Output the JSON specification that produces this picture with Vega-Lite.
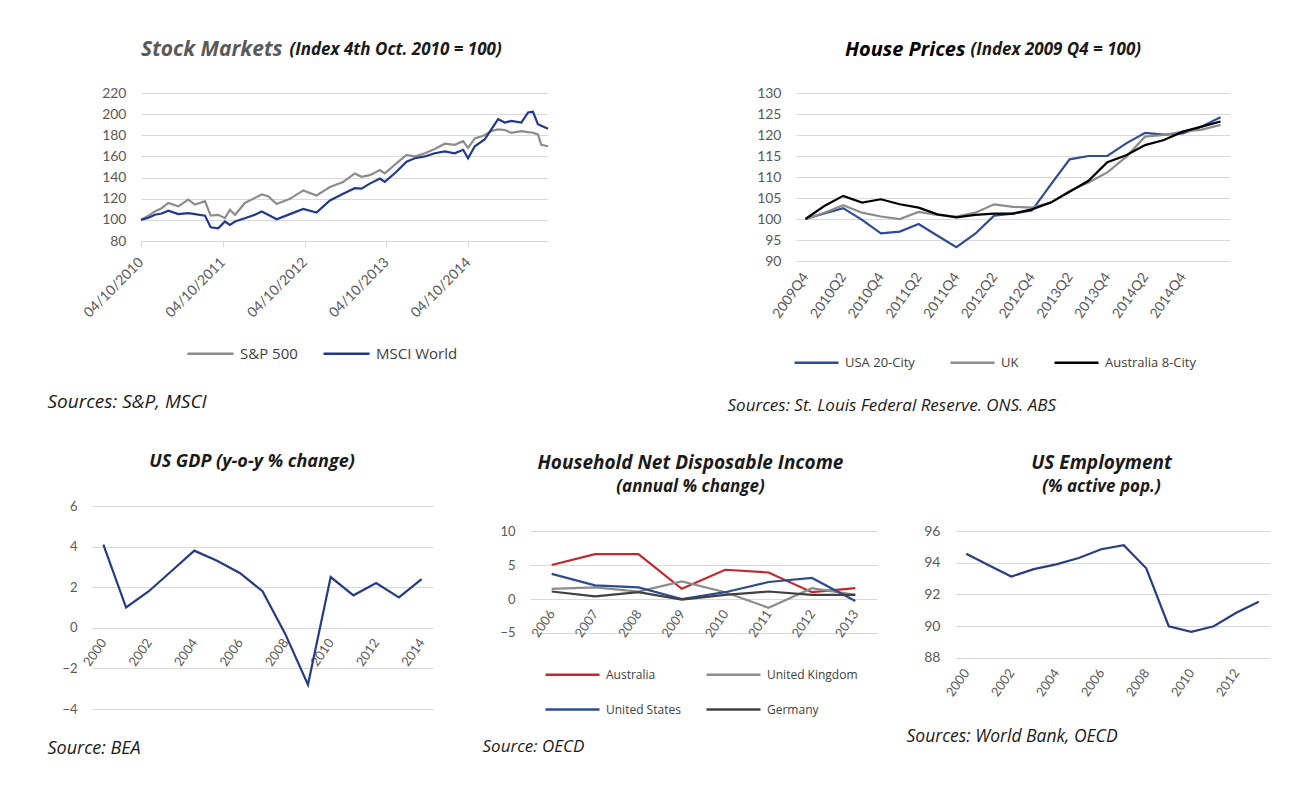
{
"$schema":"https://vega.github.io/schema/vega-lite/v6.json",
"background":"white",
"padding":{"left":47,"top":39,"right":5,"bottom":5},
"config":{
 "font":"Open Sans",
 "view":{"stroke":null},
 "axis":{"labelFont":"Lato","labelColor":"#595959","labelFontSize":14,"gridColor":"#d9d9d9","domain":false,"ticks":false,"titleFont":"Open Sans","titleFontStyle":"italic","titleFontWeight":"normal","titleFontSize":16,"titleColor":"#1a1a1a","titleAngle":0,"titleAlign":"left","titleBaseline":"middle","titleAnchor":"start"},
 "axisX":{"grid":false,"labelPadding":10},
 "axisY":{"labelPadding":15},
 "legend":{"labelFont":"Open Sans","labelColor":"#404040","labelOffset":5},
 "title":{"font":"Open Sans","fontStyle":"italic","fontWeight":"bold","color":"#1a1a1a","offset":0,"subtitleFont":"Open Sans","subtitleFontStyle":"italic","subtitleFontWeight":"bold","subtitleColor":"#1a1a1a"}
},
"datasets":{
 "stock":[
{"d":"2010/10/04","s":"S&P 500","v":100},{"d":"2010/11/06","s":"S&P 500","v":104},{"d":"2010/12/05","s":"S&P 500","v":108},{"d":"2011/01/04","s":"S&P 500","v":111},{"d":"2011/02/03","s":"S&P 500","v":116},{"d":"2011/03/20","s":"S&P 500","v":112.8},{"d":"2011/05/03","s":"S&P 500","v":119.2},{"d":"2011/06/02","s":"S&P 500","v":114.4},{"d":"2011/07/17","s":"S&P 500","v":117.6},{"d":"2011/08/11","s":"S&P 500","v":104},{"d":"2011/09/14","s":"S&P 500","v":104.8},{"d":"2011/10/14","s":"S&P 500","v":101.6},{"d":"2011/11/05","s":"S&P 500","v":109.6},{"d":"2011/11/28","s":"S&P 500","v":104.8},{"d":"2012/01/11","s":"S&P 500","v":116},{"d":"2012/02/25","s":"S&P 500","v":120.8},{"d":"2012/03/26","s":"S&P 500","v":124},{"d":"2012/04/24","s":"S&P 500","v":122.4},{"d":"2012/06/01","s":"S&P 500","v":115},{"d":"2012/07/30","s":"S&P 500","v":119.9},{"d":"2012/09/28","s":"S&P 500","v":127.9},{"d":"2012/11/26","s":"S&P 500","v":123},{"d":"2013/01/25","s":"S&P 500","v":131},{"d":"2013/03/25","s":"S&P 500","v":135.9},{"d":"2013/05/16","s":"S&P 500","v":143.9},{"d":"2013/06/15","s":"S&P 500","v":140.7},{"d":"2013/07/22","s":"S&P 500","v":142.3},{"d":"2013/09/05","s":"S&P 500","v":147.1},{"d":"2013/09/27","s":"S&P 500","v":143.9},{"d":"2013/11/18","s":"S&P 500","v":153.5},{"d":"2014/01/02","s":"S&P 500","v":161.5},{"d":"2014/02/08","s":"S&P 500","v":160},{"d":"2014/03/25","s":"S&P 500","v":163},{"d":"2014/05/08","s":"S&P 500","v":167},{"d":"2014/06/22","s":"S&P 500","v":172},{"d":"2014/08/05","s":"S&P 500","v":171},{"d":"2014/09/12","s":"S&P 500","v":174.4},{"d":"2014/10/04","s":"S&P 500","v":168},{"d":"2014/11/03","s":"S&P 500","v":177},{"d":"2014/12/17","s":"S&P 500","v":180},{"d":"2015/01/16","s":"S&P 500","v":184},{"d":"2015/02/15","s":"S&P 500","v":185.6},{"d":"2015/03/17","s":"S&P 500","v":185},{"d":"2015/04/15","s":"S&P 500","v":182.4},{"d":"2015/05/30","s":"S&P 500","v":184},{"d":"2015/06/29","s":"S&P 500","v":183},{"d":"2015/07/21","s":"S&P 500","v":182.4},{"d":"2015/08/12","s":"S&P 500","v":180.8},{"d":"2015/08/27","s":"S&P 500","v":171},{"d":"2015/09/26","s":"S&P 500","v":169.6},
{"d":"2010/10/04","s":"MSCI World","v":100},{"d":"2010/11/06","s":"MSCI World","v":102},{"d":"2010/12/05","s":"MSCI World","v":104.8},{"d":"2011/01/04","s":"MSCI World","v":106},{"d":"2011/02/03","s":"MSCI World","v":108.7},{"d":"2011/03/20","s":"MSCI World","v":105.4},{"d":"2011/05/03","s":"MSCI World","v":106.4},{"d":"2011/06/02","s":"MSCI World","v":105.5},{"d":"2011/07/17","s":"MSCI World","v":104},{"d":"2011/08/11","s":"MSCI World","v":93},{"d":"2011/09/14","s":"MSCI World","v":92},{"d":"2011/10/14","s":"MSCI World","v":98.4},{"d":"2011/11/05","s":"MSCI World","v":95.2},{"d":"2011/11/28","s":"MSCI World","v":98.4},{"d":"2012/01/11","s":"MSCI World","v":101.6},{"d":"2012/02/25","s":"MSCI World","v":104.8},{"d":"2012/03/26","s":"MSCI World","v":108},{"d":"2012/04/24","s":"MSCI World","v":104.8},{"d":"2012/06/01","s":"MSCI World","v":100.6},{"d":"2012/07/30","s":"MSCI World","v":105.4},{"d":"2012/09/28","s":"MSCI World","v":110.3},{"d":"2012/11/26","s":"MSCI World","v":107},{"d":"2013/01/25","s":"MSCI World","v":118.3},{"d":"2013/03/25","s":"MSCI World","v":124.7},{"d":"2013/05/16","s":"MSCI World","v":130},{"d":"2013/06/15","s":"MSCI World","v":129.5},{"d":"2013/07/22","s":"MSCI World","v":134.3},{"d":"2013/09/05","s":"MSCI World","v":139.1},{"d":"2013/09/27","s":"MSCI World","v":135.9},{"d":"2013/11/18","s":"MSCI World","v":145.5},{"d":"2014/01/02","s":"MSCI World","v":155.1},{"d":"2014/02/08","s":"MSCI World","v":158.3},{"d":"2014/03/25","s":"MSCI World","v":160},{"d":"2014/05/08","s":"MSCI World","v":163},{"d":"2014/06/22","s":"MSCI World","v":164.7},{"d":"2014/08/05","s":"MSCI World","v":163},{"d":"2014/09/12","s":"MSCI World","v":166.3},{"d":"2014/10/04","s":"MSCI World","v":158.3},{"d":"2014/11/03","s":"MSCI World","v":169.6},{"d":"2014/12/17","s":"MSCI World","v":176},{"d":"2015/01/16","s":"MSCI World","v":185.6},{"d":"2015/02/15","s":"MSCI World","v":195.2},{"d":"2015/03/17","s":"MSCI World","v":192},{"d":"2015/04/15","s":"MSCI World","v":193.6},{"d":"2015/05/30","s":"MSCI World","v":192},{"d":"2015/06/29","s":"MSCI World","v":201.6},{"d":"2015/07/21","s":"MSCI World","v":202.2},{"d":"2015/08/12","s":"MSCI World","v":190.4},{"d":"2015/08/27","s":"MSCI World","v":189},{"d":"2015/09/26","s":"MSCI World","v":186.2}
 ],
 "house":[
{"q":"2009Q4","s":"USA 20-City","v":100},{"q":"2010Q1","s":"USA 20-City","v":101.3},{"q":"2010Q2","s":"USA 20-City","v":102.6},{"q":"2010Q3","s":"USA 20-City","v":99.8},{"q":"2010Q4","s":"USA 20-City","v":96.6},{"q":"2011Q1","s":"USA 20-City","v":97.0},{"q":"2011Q2","s":"USA 20-City","v":98.8},{"q":"2011Q3","s":"USA 20-City","v":96.0},{"q":"2011Q4","s":"USA 20-City","v":93.3},{"q":"2012Q1","s":"USA 20-City","v":96.5},{"q":"2012Q2","s":"USA 20-City","v":100.8},{"q":"2012Q3","s":"USA 20-City","v":101.3},{"q":"2012Q4","s":"USA 20-City","v":102.0},{"q":"2013Q1","s":"USA 20-City","v":108.2},{"q":"2013Q2","s":"USA 20-City","v":114.2},{"q":"2013Q3","s":"USA 20-City","v":115.0},{"q":"2013Q4","s":"USA 20-City","v":115.0},{"q":"2014Q1","s":"USA 20-City","v":118.0},{"q":"2014Q2","s":"USA 20-City","v":120.5},{"q":"2014Q3","s":"USA 20-City","v":120.1},{"q":"2014Q4","s":"USA 20-City","v":120.4},{"q":"2015Q1","s":"USA 20-City","v":122.0},{"q":"2015Q2","s":"USA 20-City","v":124.2},
{"q":"2009Q4","s":"UK","v":100},{"q":"2010Q1","s":"UK","v":101.5},{"q":"2010Q2","s":"UK","v":103.3},{"q":"2010Q3","s":"UK","v":101.5},{"q":"2010Q4","s":"UK","v":100.6},{"q":"2011Q1","s":"UK","v":100.0},{"q":"2011Q2","s":"UK","v":101.7},{"q":"2011Q3","s":"UK","v":101.0},{"q":"2011Q4","s":"UK","v":100.6},{"q":"2012Q1","s":"UK","v":101.5},{"q":"2012Q2","s":"UK","v":103.5},{"q":"2012Q3","s":"UK","v":102.9},{"q":"2012Q4","s":"UK","v":102.7},{"q":"2013Q1","s":"UK","v":103.9},{"q":"2013Q2","s":"UK","v":106.7},{"q":"2013Q3","s":"UK","v":108.7},{"q":"2013Q4","s":"UK","v":111.1},{"q":"2014Q1","s":"UK","v":114.8},{"q":"2014Q2","s":"UK","v":119.6},{"q":"2014Q3","s":"UK","v":120.0},{"q":"2014Q4","s":"UK","v":120.8},{"q":"2015Q1","s":"UK","v":121.3},{"q":"2015Q2","s":"UK","v":122.4},
{"q":"2009Q4","s":"Australia 8-City","v":100},{"q":"2010Q1","s":"Australia 8-City","v":103.1},{"q":"2010Q2","s":"Australia 8-City","v":105.5},{"q":"2010Q3","s":"Australia 8-City","v":103.9},{"q":"2010Q4","s":"Australia 8-City","v":104.7},{"q":"2011Q1","s":"Australia 8-City","v":103.5},{"q":"2011Q2","s":"Australia 8-City","v":102.7},{"q":"2011Q3","s":"Australia 8-City","v":101.1},{"q":"2011Q4","s":"Australia 8-City","v":100.4},{"q":"2012Q1","s":"Australia 8-City","v":101.0},{"q":"2012Q2","s":"Australia 8-City","v":101.3},{"q":"2012Q3","s":"Australia 8-City","v":101.3},{"q":"2012Q4","s":"Australia 8-City","v":102.3},{"q":"2013Q1","s":"Australia 8-City","v":103.9},{"q":"2013Q2","s":"Australia 8-City","v":106.5},{"q":"2013Q3","s":"Australia 8-City","v":109.1},{"q":"2013Q4","s":"Australia 8-City","v":113.5},{"q":"2014Q1","s":"Australia 8-City","v":115.2},{"q":"2014Q2","s":"Australia 8-City","v":117.6},{"q":"2014Q3","s":"Australia 8-City","v":118.8},{"q":"2014Q4","s":"Australia 8-City","v":120.8},{"q":"2015Q1","s":"Australia 8-City","v":122.0},{"q":"2015Q2","s":"Australia 8-City","v":123.2}
 ],
 "gdp":[{"year":2000,"v":4.1},{"year":2001,"v":1.0},{"year":2002,"v":1.8},{"year":2003,"v":2.8},{"year":2004,"v":3.8},{"year":2005,"v":3.3},{"year":2006,"v":2.7},{"year":2007,"v":1.8},{"year":2008,"v":-0.3},{"year":2009,"v":-2.8},{"year":2010,"v":2.5},{"year":2011,"v":1.6},{"year":2012,"v":2.2},{"year":2013,"v":1.5},{"year":2014,"v":2.4}],
 "hh":[
{"year":2006,"s":"Australia","v":5.0},{"year":2007,"s":"Australia","v":6.6},{"year":2008,"s":"Australia","v":6.6},{"year":2009,"s":"Australia","v":1.5},{"year":2010,"s":"Australia","v":4.3},{"year":2011,"s":"Australia","v":3.9},{"year":2012,"s":"Australia","v":1.0},{"year":2013,"s":"Australia","v":1.6},
{"year":2006,"s":"United Kingdom","v":1.5},{"year":2007,"s":"United Kingdom","v":1.7},{"year":2008,"s":"United Kingdom","v":1.1},{"year":2009,"s":"United Kingdom","v":2.6},{"year":2010,"s":"United Kingdom","v":1.0},{"year":2011,"s":"United Kingdom","v":-1.3},{"year":2012,"s":"United Kingdom","v":1.6},{"year":2013,"s":"United Kingdom","v":0.6},
{"year":2006,"s":"United States","v":3.7},{"year":2007,"s":"United States","v":2.0},{"year":2008,"s":"United States","v":1.7},{"year":2009,"s":"United States","v":0.0},{"year":2010,"s":"United States","v":1.0},{"year":2011,"s":"United States","v":2.5},{"year":2012,"s":"United States","v":3.1},{"year":2013,"s":"United States","v":-0.3},
{"year":2006,"s":"Germany","v":1.1},{"year":2007,"s":"Germany","v":0.4},{"year":2008,"s":"Germany","v":1.0},{"year":2009,"s":"Germany","v":-0.1},{"year":2010,"s":"Germany","v":0.6},{"year":2011,"s":"Germany","v":1.1},{"year":2012,"s":"Germany","v":0.6},{"year":2013,"s":"Germany","v":0.6}
 ],
 "emp":[{"year":2000,"v":94.57},{"year":2001,"v":93.84},{"year":2002,"v":93.13},{"year":2003,"v":93.6},{"year":2004,"v":93.9},{"year":2005,"v":94.3},{"year":2006,"v":94.85},{"year":2007,"v":95.1},{"year":2008,"v":93.65},{"year":2009,"v":90.0},{"year":2010,"v":89.65},{"year":2011,"v":90.0},{"year":2012,"v":90.85},{"year":2013,"v":91.55}]
},
"spacing":40,
"resolve":{"scale":{"color":"independent"},"legend":{"color":"independent"}},
"vconcat":[
 {"bounds":"flush","spacing":248,"resolve":{"scale":{"color":"independent"},"legend":{"color":"independent"}},"hconcat":[
  {"width":456,"height":148,"data":{"name":"stock"},
   "title":{"text":"Stock Markets","anchor":"start","frame":"group","fontSize":21,"color":"#595959","dx":49,"dy":24},
   "mark":{"type":"line","strokeWidth":2.2},
   "encoding":{
    "x":{"field":"d","type":"temporal","scale":{"domain":[{"year":2010,"month":10,"date":4},{"year":2015,"month":9,"date":26}],"range":[49,456]},
     "axis":{"values":[{"year":2010,"month":10,"date":4},{"year":2011,"month":10,"date":4},{"year":2012,"month":10,"date":4},{"year":2013,"month":10,"date":4},{"year":2014,"month":10,"date":4}],
      "format":"%d/%m/%Y","labelAngle":-45,"labelAlign":"right","labelBaseline":"middle","labelFontSize":14,"labelPadding":13,
      "domain":true,"domainColor":"#d9d9d9","ticks":true,"tickColor":"#d9d9d9","tickSize":6,
      "title":"Sources: S&P, MSCI","titleX":-45,"titleY":160,"titleFontSize":19}},
    "y":{"field":"v","type":"quantitative","scale":{"domain":[80,220],"nice":false,"zero":false},
     "axis":{"values":[80,100,120,140,160,180,200,220],"offset":-49,"title":"(Index 4th Oct. 2010 = 100)","titleX":148,"titleY":-44,"titleFontWeight":"bold","titleFontSize":17}},
    "color":{"field":"s","type":"nominal","scale":{"domain":["S&P 500","MSCI World"],"range":["#8c8c8c","#22398a"]},
     "legend":{"orient":"none","legendX":94,"legendY":236,"direction":"horizontal","title":null,"symbolType":"stroke","symbolSize":2116,"symbolStrokeWidth":2.5,"labelFontSize":15,"columnPadding":20}}
   }},
  {"width":434,"height":168,"data":{"name":"house"},
   "title":{"text":"House Prices","anchor":"start","frame":"group","fontSize":20,"color":"#000000","dx":49,"dy":24},
   "mark":{"type":"line","strokeWidth":2.2},
   "encoding":{
    "x":{"field":"q","type":"ordinal","scale":{"type":"point","padding":0.5},
     "axis":{"values":["2009Q4","2010Q2","2010Q4","2011Q2","2011Q4","2012Q2","2012Q4","2013Q2","2013Q4","2014Q2","2014Q4"],"labelAngle":-55,"labelAlign":"right","labelBaseline":"middle","labelFontSize":14,"labelPadding":13,
      "title":"Sources: St. Louis Federal Reserve. ONS. ABS","titleX":-69,"titleY":144,"titleFontSize":17}},
    "y":{"field":"v","type":"quantitative","scale":{"domain":[90,130],"nice":false,"zero":false},
     "axis":{"values":[90,95,100,105,110,115,120,125,130],"title":"(Index 2009 Q4 = 100)","titleX":174,"titleY":-44,"titleFontWeight":"bold","titleFontSize":17}},
    "color":{"field":"s","type":"nominal","scale":{"domain":["USA 20-City","UK","Australia 8-City"],"range":["#2f4b93","#8c8c8c","#000000"]},
     "legend":{"orient":"none","legendX":-3,"legendY":246,"direction":"horizontal","title":null,"symbolType":"stroke","symbolSize":1936,"symbolStrokeWidth":2.5,"labelFontSize":13,"columnPadding":30}}
   }}
 ]},
 {"bounds":"flush","spacing":78,"resolve":{"scale":{"color":"independent"},"legend":{"color":"independent"}},"hconcat":[
  {"width":360,"height":203,"data":{"name":"gdp"},
   "title":{"text":"US GDP (y-o-y % change)","anchor":"middle","frame":"group","fontSize":18,"dx":-20,"offset":29},
   "mark":{"type":"line","strokeWidth":2.2,"color":"#263c80"},
   "encoding":{
    "x":{"field":"year","type":"ordinal","scale":{"type":"point","padding":0.5,"range":[0,341]},
     "axis":{"values":[2000,2002,2004,2006,2008,2010,2012,2014],"labelAngle":-55,"labelAlign":"right","labelBaseline":"middle","labelFontSize":13,"labelPadding":12,"offset":-81.2,
      "title":"Source: BEA","titleX":-45,"titleY":121,"titleFontSize":18}},
    "y":{"field":"v","type":"quantitative","scale":{"domain":[-4,6],"nice":false},
     "axis":{"values":[-4,-2,0,2,4,6],"title":null,"labelFontSize":13}}
   }},
  {"width":347,"height":203,"data":{"name":"hh"},
   "title":{"text":"Household Net Disposable Income","subtitle":"(annual % change)","anchor":"middle","frame":"group","fontSize":19,"subtitleFontSize":17,"subtitlePadding":6,"dx":-13,"offset":11},
   "mark":{"type":"line","strokeWidth":2.2},
   "encoding":{
    "x":{"field":"year","type":"ordinal","scale":{"type":"point","padding":0.5},
     "axis":{"labelAngle":-55,"labelAlign":"right","labelBaseline":"middle","labelFontSize":13,"labelPadding":12,"offset":-110,
      "title":"Source: OECD","titleX":-48,"titleY":147,"titleFontSize":17}},
    "y":{"field":"v","type":"quantitative","scale":{"domain":[-16.18,13.68],"nice":false,"zero":false},
     "axis":{"values":[-5,0,5,10],"title":null,"labelFontSize":13}},
    "color":{"field":"s","type":"nominal","scale":{"domain":["Australia","United Kingdom","United States","Germany"],"range":["#c0282d","#8c8c8c","#2f4b8f","#404040"]},
     "legend":{"orient":"none","legendX":14,"legendY":140,"direction":"horizontal","columns":2,"title":null,"symbolType":"stroke","symbolSize":2916,"symbolStrokeWidth":2.5,"labelFontSize":12,"columnPadding":20,"rowPadding":-8}}
   }},
  {"width":315,"height":203,"data":{"name":"emp"},
   "title":{"text":"US Employment","subtitle":"(% active pop.)","anchor":"middle","frame":"group","fontSize":19,"subtitleFontSize":17,"subtitlePadding":6,"dx":-11,"offset":11},
   "mark":{"type":"line","strokeWidth":2.2,"color":"#2b3d80"},
   "encoding":{
    "x":{"field":"year","type":"ordinal","scale":{"type":"point","padding":0.5},
     "axis":{"values":[2000,2002,2004,2006,2008,2010,2012],"labelAngle":-55,"labelAlign":"right","labelBaseline":"middle","labelFontSize":13,"labelPadding":12,"offset":-51,
      "title":"Sources: World Bank, OECD","titleX":-49,"titleY":78,"titleFontSize":17.5}},
    "y":{"field":"v","type":"quantitative","scale":{"domain":[84.787,97.575],"nice":false,"zero":false},
     "axis":{"values":[88,90,92,94,96],"title":null,"labelFontSize":14}}
   }}
 ]}
]
}
